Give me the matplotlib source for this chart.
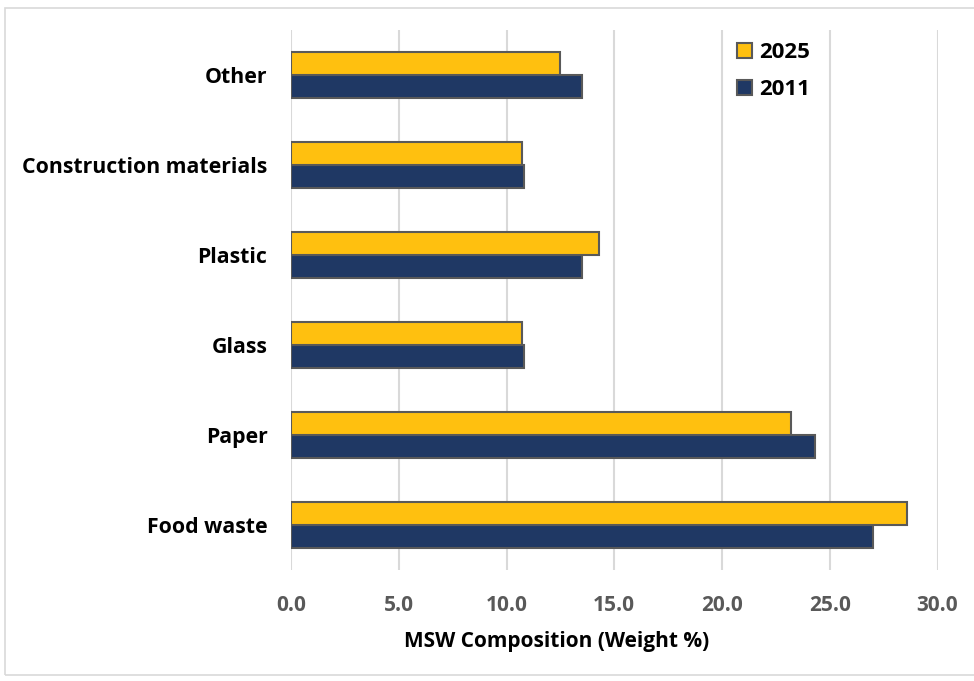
import matplotlib.pyplot as plt
import numpy as np
from matplotlib.patches import Rectangle

categories = ['Food waste', 'Paper', 'Glass', 'Plastic', 'Construction materials', 'Other']
values_2011 = [27.0, 24.3, 10.8, 13.5, 10.8, 13.5]
values_2025 = [28.6, 23.2, 10.7, 14.3, 10.7, 12.5]
xticks = [0, 5, 10, 15, 20, 25, 30]

plt.rcParams['font.family'] = ['Open Sans', 'DejaVu Sans']

fig = plt.figure(figsize=(9.74, 6.81), dpi=100)
ax = fig.add_axes([291 / 974, 1 - 570 / 681, (937.5 - 291) / 974, 540 / 681])

y = np.arange(len(categories))
h = 0.255
ax.barh(y - h / 2, values_2011, height=h, color='#1F3864', edgecolor='#595959',
        linewidth=1.5, label='2011', zorder=3)
ax.barh(y + h / 2, values_2025, height=h, color='#FFC00F', edgecolor='#595959',
        linewidth=1.5, label='2025', zorder=3)

ax.set_xlim(0, 30)
ax.set_ylim(-0.5, len(categories) - 0.5)
ax.set_xticks(xticks)
ax.set_xticklabels([f'{v:.1f}' for v in xticks], fontsize=15, fontweight='bold', color='#595959')
ax.set_yticks(y)
ax.set_yticklabels(categories, fontsize=15.3, fontweight='bold', color='black')
ax.tick_params(axis='both', length=0)
ax.tick_params(axis='x', pad=18)
ax.tick_params(axis='y', pad=17)
ax.grid(axis='x', color='#D9D9D9', linewidth=1.5, zorder=0)
for s in ax.spines.values():
    s.set_visible(False)

fig.text(557 / 974, 1 - 642 / 681, 'MSW Composition (Weight %)', fontsize=15,
         fontweight='bold', ha='center', va='center')

handles, labels = ax.get_legend_handles_labels()
ax.legend(handles[::-1], labels[::-1], loc='upper left', bbox_to_anchor=(717 / 974, 1 - 22 / 681),
          bbox_transform=fig.transFigure, frameon=False, prop={'weight': 'bold', 'size': 16},
          handlelength=0.68, handleheight=0.68, handletextpad=0.3, labelspacing=0.72)

fig.patches.append(Rectangle((5 / 974, 6 / 681), 1.0, 1 - 14 / 681, transform=fig.transFigure,
                             fill=False, edgecolor='#D9D9D9', linewidth=1.2))

plt.savefig('out.png', dpi=100)
